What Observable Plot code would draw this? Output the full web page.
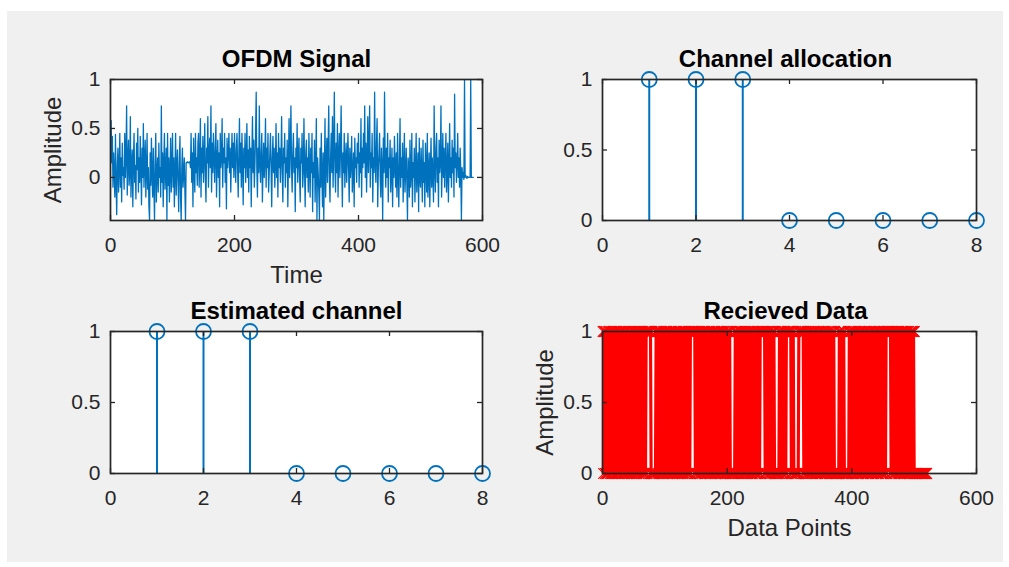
<!DOCTYPE html>
<html><head><meta charset="utf-8">
<script src="https://cdn.jsdelivr.net/npm/d3@7"></script>
<script src="https://cdn.jsdelivr.net/npm/@observablehq/plot@0.6"></script>
<style>
html,body{margin:0;padding:0;background:#fff}
body{width:1009px;height:567px;overflow:hidden;position:relative;font-family:"Liberation Sans",Arial,sans-serif}
#panel{position:absolute;left:7px;top:11px;width:996px;height:551px;background:#f0f0f0}
svg.sp{position:absolute;overflow:visible}
</style></head><body><div id="panel"></div>
<script>
// ---- data ----
const ofdmSignal = [
0.58,0.15,0.42,-0.1,0.25,0.05,-0.2,0.44,-0.05,-0.38,0.12,0.3,-0.15,0.08,0.45,-0.1,0.2,-0.25,0.35,0.02,
0.1,-0.12,0.45,0.0,0.22,0.73,-0.18,0.15,0.38,-0.08,0.05,0.62,-0.2,0.1,0.28,-0.3,0.18,0.45,-0.05,0.12,
-0.22,0.35,0.08,0.5,-0.15,0.2,-0.05,0.42,0.1,-0.28,0.3,0.0,0.55,-0.1,0.15,0.38,-0.2,0.05,0.45,-0.12,
0.1,-0.3,-0.44,0.25,-0.08,0.4,0.02,-0.2,0.3,-0.1,-0.44,0.15,0.45,-0.25,0.05,0.2,-0.15,0.35,0.0,0.1,
-0.2,0.73,-0.05,0.25,-0.3,0.15,0.45,-0.12,0.08,0.3,-0.44,0.45,-0.08,0.2,-0.25,0.05,0.4,-0.15,0.12,0.45,
-0.1,0.2,-0.3,0.05,0.45,-0.18,0.1,0.28,-0.05,-0.35,0.15,0.42,-0.2,-0.44,0.1,0.3,-0.1,0.05,0.2,-0.15,
-0.44,0.15,0.15,0.16,0.15,0.15,0.16,0.15,0.1,0.45,-0.05,0.25,-0.3,0.4,0.1,-0.15,0.45,0.05,0.2,-0.08,
0.35,0.45,-0.1,0.18,0.6,-0.2,0.3,0.05,0.42,-0.05,0.2,0.55,0.0,-0.25,0.3,0.15,0.62,-0.1,0.25,0.4,
0.1,0.73,-0.15,0.35,0.05,0.45,0.2,-0.05,0.3,0.55,-0.2,0.15,0.38,0.0,0.25,-0.3,0.45,0.1,0.2,0.6,
-0.1,0.3,0.15,0.45,-0.05,0.2,-0.32,0.4,0.1,0.25,0.45,0.05,0.3,-0.15,0.2,0.45,0.1,0.35,0.0,0.45,
0.15,-0.05,0.3,0.45,0.1,-0.2,0.25,0.6,0.05,0.35,-0.1,0.45,0.15,-0.28,0.3,0.1,0.45,-0.05,0.2,0.55,
0.0,0.28,-0.15,0.42,0.1,0.3,-0.3,0.2,0.62,0.05,0.38,-0.1,0.15,0.45,0.87,0.1,-0.2,0.3,0.05,0.73,
0.15,-0.05,0.25,0.45,-0.25,0.1,0.35,0.0,0.2,0.6,-0.1,0.3,0.1,0.45,-0.15,0.05,0.25,0.45,0.1,-0.3,
0.2,0.42,0.05,0.3,-0.1,0.15,0.55,0.0,0.25,-0.2,0.45,0.1,0.3,-0.05,0.2,0.62,0.05,-0.25,0.3,0.15,
0.45,-0.1,0.2,0.05,0.38,-0.3,0.15,0.6,0.0,0.3,0.73,0.1,-0.15,0.25,0.45,0.05,0.2,-0.35,0.3,0.1,
0.55,-0.05,0.2,0.4,0.0,-0.25,0.3,0.15,0.45,-0.1,0.05,0.6,0.1,-0.3,0.25,0.38,0.0,0.2,-0.15,0.45,
0.1,-0.2,0.3,0.05,0.45,-0.35,0.15,0.0,0.38,-0.25,0.1,0.6,-0.44,0.2,0.05,-0.15,-0.44,0.3,-0.1,0.45,
0.0,-0.3,0.25,-0.44,0.1,0.6,-0.2,0.15,0.4,-0.05,0.3,0.73,0.0,-0.25,0.2,0.45,0.05,0.62,-0.1,0.3,
0.87,0.1,-0.15,0.35,0.05,0.55,-0.2,0.2,0.45,0.0,0.3,0.73,0.1,-0.3,0.25,0.05,0.45,-0.1,0.15,0.35,
-0.05,0.2,0.45,0.1,-0.25,0.3,0.0,0.15,0.42,-0.15,0.05,0.25,-0.3,0.4,0.1,0.2,-0.05,0.35,0.15,0.45,
-0.1,0.25,0.05,0.6,-0.2,0.3,0.1,0.45,0.15,0.73,0.0,0.35,-0.15,0.2,0.62,0.05,0.3,0.73,-0.1,0.25,
0.1,0.45,-0.25,0.2,0.05,0.87,0.15,-0.05,0.35,0.6,-0.3,0.1,0.25,0.45,0.0,-0.2,0.3,0.1,-0.44,0.4,
0.05,0.87,0.15,-0.1,0.3,0.0,0.45,-0.25,0.2,0.1,0.38,-0.15,0.05,0.3,-0.3,0.2,0.0,0.42,0.1,-0.1,
0.25,-0.2,0.45,0.05,-0.3,0.15,0.6,-0.1,0.2,0.0,0.35,-0.25,0.1,0.45,-0.15,0.05,0.3,-0.05,-0.44,0.2,
0.1,-0.2,0.38,-0.1,0.05,0.45,-0.3,0.15,0.0,0.3,-0.25,0.1,0.45,-0.15,0.05,0.25,-0.35,0.4,0.0,-0.1,
0.3,0.05,-0.25,0.38,-0.05,0.15,-0.3,0.35,0.1,-0.15,0.45,-0.2,0.05,0.25,-0.3,0.1,0.4,-0.1,0.2,0.0,
-0.25,0.73,0.1,-0.15,0.3,0.45,-0.05,0.2,-0.3,0.38,0.05,0.15,0.73,-0.2,0.1,0.45,0.0,0.3,-0.1,0.2,
0.45,-0.15,0.05,0.35,-0.25,0.1,0.55,0.0,0.2,-0.1,0.38,0.05,0.3,-0.2,0.85,0.1,0.25,-0.05,0.15,0.45,
0.0,0.2,-0.1,0.3,0.05,-0.44,0.1,0.0,0.05,-0.02,1.0,0.0,0.02,0.0,-0.01,0.01,0.0,0.0,0.0,0.0,
1.0,0.0,0.0,0.0,0.0
];
const channelIndex = [1,2,3,4,5,6,7,8];
const channelAllocation = [1,1,1,0,0,0,0,0];
const estimatedChannel = [1,1,1,0,0,0,0,0];
const receivedData = [
1,0,1,1,0,1,0,0,1,0, 1,1,0,1,0,0,1,1,0,1, 0,1,1,0,0,1,0,1,1,0, 1,0,0,1,0,1,1,0,1,0,
0,1,0,1,1,0,0,1,0,1, 1,0,1,0,0,1,1,0,1,0, 1,1,0,1,0,0,1,0,1,0, 1,1,1,1,1,1,0,1,0,0,
0,0,0,0,1,0,1,1,0,1, 0,1,1,0,1,0,0,1,0,1, 1,0,1,0,0,1,0,1,1,0, 1,0,0,1,0,1,1,0,1,0,
0,1,0,1,1,0,1,0,0,1, 0,1,1,0,1,0,0,1,0,1, 0,1,1,1,1,1,1,0,1,0, 1,0,1,1,0,1,0,0,1,0,
1,1,0,1,0,0,1,0,1,1, 0,1,0,0,1,0,1,1,0,1, 0,0,1,0,1,1,0,1,0,0, 1,0,1,1,0,1,0,0,1,0,
1,1,0,1,1,0,0,0,0,0, 0,1,0,1,1,0,1,0,0,1, 1,0,1,1,0,0,1,0,1,0, 0,1,0,1,1,0,1,0,0,1,
0,1,1,0,1,0,0,1,0,1, 1,0,0,1,1,1,1,1,1,0, 1,0,1,0,1,1,0,1,0,0, 1,0,1,1,0,1,0,0,0,0,
0,0,1,0,1,1,0,1,0,1, 0,1,1,0,0,1,1,1,1,1, 1,0,1,0,0,1,1,0,0,0, 0,0,0,1,0,1,1,1,1,1,
1,0,1,0,1,1,0,0,1,0, 1,0,1,0,0,1,0,1,1,0, 1,0,0,1,0,1,1,0,1,0, 0,1,0,1,1,0,1,0,0,1,
0,1,1,0,1,0,0,1,0,1, 0,1,0,0,0,0,0,0,1,0, 1,1,0,1,0,0,1,1,0,0, 0,0,0,0,1,0,1,1,0,1,
0,1,0,1,1,0,1,0,0,1, 0,1,1,0,1,0,0,1,0,1, 1,0,1,0,0,1,0,1,1,0, 1,0,0,1,0,1,1,0,1,0,
0,1,0,1,1,0,1,0,0,1, 0,1,1,0,0,1,1,1,1,1, 1,0,1,0,1,1,0,1,0,1, 0,1,1,0,1,0,0,1,0,1,
1,0,1,0,0,1,0,1,1,0, 1,0,0,1,0,1,1,0,1,1, 0,0,0,0,0,0,0,0,0,0, 0,0,0,0,0,0,0,0,0,0
];
const timeTicks = [0,200,400,600];
const channelTicks = [0,2,4,6,8];
const ampTicks = [0,0.5,1];
const titles = ["OFDM Signal","Channel allocation","Estimated channel","Recieved Data"];
const ampLabel = "Amplitude";
const timeLabel = "Time";
const pointsLabel = "Data Points";

// ---- drawing ----
const BLUE = "#0072BD", INK = "#262626";
const FONT = "Liberation Sans, Arial, Helvetica, sans-serif";

function subplot({frame, xDomain, yDomain, xTicks, yTicks, title, xLabel, yLabel, marks, titleDx = 0}) {
  const [x0, x1, y0, y1] = frame;
  const mL = 75, mR = 35, mT = 45, mB = 75;
  const fw = x1 - x0, fh = y1 - y0;
  const fmt = d => String(d);
  const svg = Plot.plot({
    width: fw + mL + mR, height: fh + mT + mB,
    marginLeft: mL, marginRight: mR, marginTop: mT, marginBottom: mB,
    x: {domain: xDomain}, y: {domain: yDomain},
    style: {background: "transparent", fontFamily: FONT, color: INK, overflow: "visible"},
    marks: [
      Plot.frame({fill: "white", stroke: null}),
      ...marks,
      Plot.tickX(xTicks, {x: d => d, insetTop: fh - 5, stroke: INK, strokeWidth: 1.3}),
      Plot.tickX(xTicks, {x: d => d, insetBottom: fh - 5, stroke: INK, strokeWidth: 1.3}),
      Plot.tickY(yTicks, {y: d => d, insetRight: fw - 5, stroke: INK, strokeWidth: 1.3}),
      Plot.tickY(yTicks, {y: d => d, insetLeft: fw - 5, stroke: INK, strokeWidth: 1.3}),
      Plot.frame({stroke: INK, strokeWidth: 1.7}),
      Plot.axisX(xTicks, {tickSize: 0, tickPadding: 17, fontSize: 21, label: null, tickFormat: fmt}),
      Plot.axisY(yTicks, {tickSize: 0, tickPadding: 10, fontSize: 21, label: null, tickFormat: fmt}),
      Plot.text([title], {frameAnchor: "top", lineAnchor: "middle", dy: -20, dx: titleDx, fontSize: 24, fontWeight: "bold", fill: "#000"}),
      xLabel ? Plot.text([xLabel], {frameAnchor: "bottom", lineAnchor: "middle", dy: 55, fontSize: 24, fill: INK}) : null,
      yLabel ? Plot.text([yLabel], {frameAnchor: "left", textAnchor: "middle", lineAnchor: "middle", dx: -57, rotate: -90, fontSize: 24, fill: INK}) : null
    ]
  });
  svg.classList.add("sp");
  svg.style.left = (x0 - mL) + "px";
  svg.style.top = (y0 - mT) + "px";
  document.body.appendChild(svg);
}

const allocRows = channelIndex.map((k, i) => ({k, v: channelAllocation[i]}));
const estRows = channelIndex.map((k, i) => ({k, v: estimatedChannel[i]}));
const stemMarks = rows => [
  Plot.ruleX(rows, {x: "k", y1: 0, y2: "v", stroke: BLUE, strokeWidth: 2}),
  Plot.dot(rows, {x: "k", y: "v", r: 7.5, stroke: BLUE, strokeWidth: 1.8, fill: "none"})
];

subplot({
  frame: [110, 482, 79, 220], xDomain: [0, 600], yDomain: [-0.44, 1],
  xTicks: timeTicks, yTicks: ampTicks, title: titles[0], xLabel: timeLabel, yLabel: ampLabel,
  marks: [Plot.line(ofdmSignal, {x: (d, i) => i + 1, y: d => d, stroke: BLUE, strokeWidth: 1.3, clip: true})]
});
subplot({
  frame: [602, 976, 79, 220], xDomain: [0, 8], yDomain: [0, 1],
  xTicks: channelTicks, yTicks: ampTicks, title: titles[1], titleDx: -4,
  marks: stemMarks(allocRows)
});
subplot({
  frame: [110, 482, 331, 473], xDomain: [0, 8], yDomain: [0, 1],
  xTicks: channelTicks, yTicks: ampTicks, title: titles[2],
  marks: stemMarks(estRows)
});
subplot({
  frame: [602, 976, 331, 473], xDomain: [0, 600], yDomain: [0, 1],
  xTicks: timeTicks, yTicks: ampTicks, title: titles[3], titleDx: -4, xLabel: pointsLabel, yLabel: ampLabel,
  marks: [
    Plot.line(receivedData, {x: (d, i) => i + 1, y: d => d, stroke: "#ff0000", strokeWidth: 1.9}),
    Plot.dot(receivedData, {x: (d, i) => i + 1, y: d => d, symbol: "times", r: 5, stroke: "#ff0000", strokeWidth: 1.2})
  ]
});
</script></body></html>
